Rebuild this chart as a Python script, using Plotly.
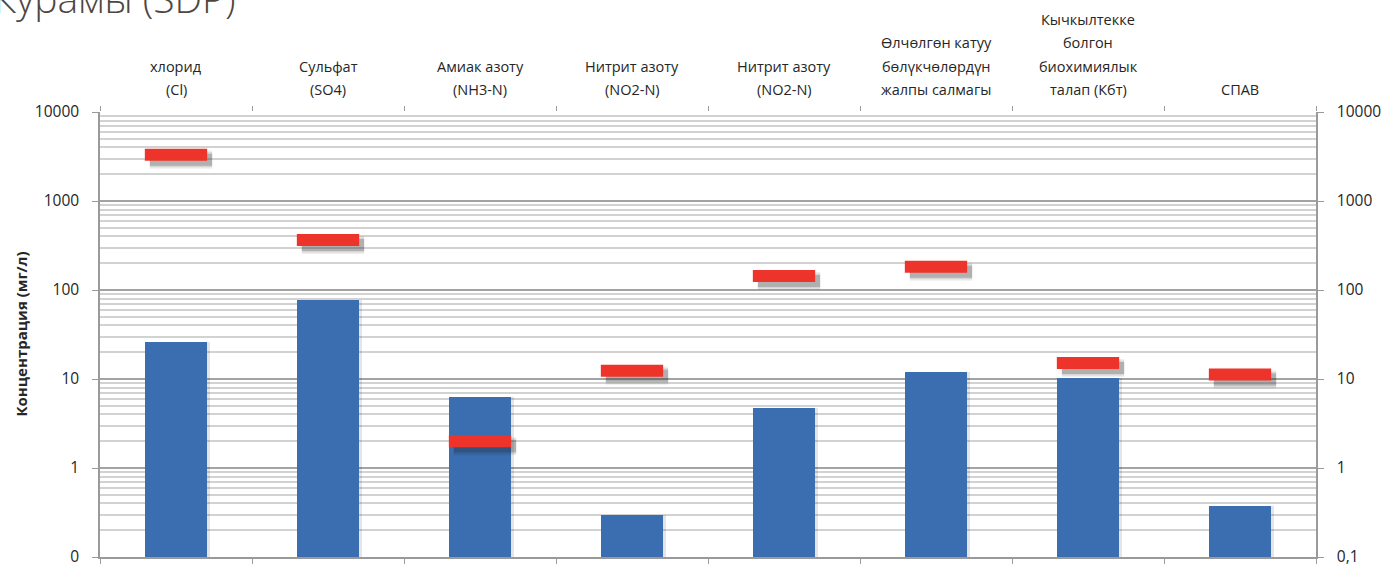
import plotly.graph_objects as go

# Показатели и значения (мг/л)
categories = [
    ["хлорид", "(Cl)"],
    ["Сульфат", "(SO4)"],
    ["Амиак азоту", "(NH3-N)"],
    ["Нитрит азоту", "(NO2-N)"],
    ["Нитрит азоту", "(NO2-N)"],
    ["Өлчөлгөн катуу", "бөлүкчөлөрдүн", "жалпы салмагы"],
    ["Кычкылтекке", "болгон", "биохимиялык", "талап (Кбт)"],
    ["СПАВ"],
]
measured = [26, 78, 6.25, 0.30, 4.7, 12.0, 10.3, 0.376]
limits = [3300, 365, 2.0, 12.4, 144, 183, 15.1, 11.2]

left_tickvals = [0.1, 1, 10, 100, 1000, 10000]
left_ticktext = ["0", "1", "10", "100", "1000", "10000"]
right_ticktext = ["0,1", "1", "10", "100", "1000", "10000"]

y_log_range = [-1, 4]
minor_vals = [m * 10 ** k for k in range(-1, 4) for m in range(2, 10)]

n = len(measured)
xs = list(range(n))
bar_width = 0.41

W, H = 1397, 566
margin = dict(l=100, r=81, t=112, b=9)
plot_w = W - margin["l"] - margin["r"]
plot_h = H - margin["t"] - margin["b"]
px_per_x = plot_w / n                      # pixels per category
px_per_decade = plot_h / (y_log_range[1] - y_log_range[0])

BAR_COLOR = "#3B6DB1"
RED = "#EE332B"
MAJOR_GRID = "#A3A3A3"
MINOR_GRID = "#D2D2D2"
AXIS_COLOR = "#9A9A9A"
TEXT_COLOR = "#262626"
FONT = "Open Sans"

fig = go.Figure()

# soft shadow behind the bars
sh_dx = 3 / px_per_x
fig.add_trace(go.Bar(
    x=[x + sh_dx for x in xs], y=measured, width=bar_width,
    marker=dict(color="rgba(0,0,0,0.10)", line=dict(width=0)),
    hoverinfo="skip", showlegend=False,
))

fig.add_trace(go.Bar(
    x=xs, y=measured, width=bar_width,
    marker=dict(color=BAR_COLOR, line=dict(width=0)),
    name="Факт", showlegend=False,
))

# limit markers: blurred drop shadow built from a few translucent layers
marker_len = bar_width * px_per_x
line_size = marker_len / 1.4
off_x = 5 / px_per_x
off_y = 10 ** (-5 / px_per_decade)
for lw, alpha in [(18, 0.08), (15, 0.12), (12, 0.22)]:
    fig.add_trace(go.Scatter(
        x=[x + off_x for x in xs], y=[v * off_y for v in limits],
        mode="markers",
        marker=dict(symbol="line-ew", size=line_size,
                    line=dict(width=lw, color=f"rgba(40,40,40,{alpha})")),
        hoverinfo="skip", showlegend=False,
    ))

fig.add_trace(go.Scatter(
    x=xs, y=limits, mode="markers",
    marker=dict(symbol="line-ew", size=line_size,
                line=dict(width=12, color=RED)),
    name="ПДК", showlegend=False,
))

# helper trace so the top and right axes get drawn
fig.add_trace(go.Scatter(x=[0], y=[1], xaxis="x2", yaxis="y2", mode="markers",
                         marker=dict(opacity=0), hoverinfo="skip", showlegend=False))

boundaries = [i - 0.5 for i in range(n + 1)]

fig.update_layout(
    width=W, height=H, margin=margin,
    paper_bgcolor="white", plot_bgcolor="white",
    barmode="overlay", bargap=0,
    font=dict(family=FONT, size=14, color=TEXT_COLOR),
    xaxis=dict(
        range=[-0.5, n - 0.5], tickmode="array", tickvals=boundaries,
        showticklabels=False, ticks="outside", ticklen=5, tickcolor=AXIS_COLOR,
        showgrid=False, zeroline=False, showline=True, linecolor=AXIS_COLOR, linewidth=1.5,
        automargin=False,
    ),
    xaxis2=dict(
        overlaying="x", side="top", anchor="y",
        range=[-0.5, n - 0.5], tickmode="array", tickvals=boundaries,
        showticklabels=False, ticks="outside", ticklen=5, tickcolor=AXIS_COLOR,
        showgrid=False, zeroline=False, showline=False, automargin=False,
    ),
    yaxis=dict(
        type="log", range=y_log_range,
        tickmode="array", tickvals=left_tickvals, ticktext=left_ticktext,
        ticks="outside", ticklen=6, tickcolor=AXIS_COLOR, ticklabelstandoff=10,
        ticklabeloverflow="allow",
        showgrid=True, gridcolor=MAJOR_GRID, gridwidth=1.5,
        minor=dict(tickmode="array", tickvals=minor_vals, showgrid=True,
                   gridcolor=MINOR_GRID, gridwidth=1.5, ticks=""),
        showline=True, linecolor=AXIS_COLOR, linewidth=1.5, zeroline=False,
        tickfont=dict(family=FONT, size=15.5, color=TEXT_COLOR), automargin=False,
    ),
    yaxis2=dict(
        type="log", range=y_log_range, overlaying="y", side="right", anchor="x",
        tickmode="array", tickvals=left_tickvals, ticktext=right_ticktext,
        ticks="outside", ticklen=6, tickcolor=AXIS_COLOR, ticklabelstandoff=10,
        ticklabeloverflow="allow",
        showgrid=False, showline=True, linecolor=AXIS_COLOR, linewidth=1.5, zeroline=False,
        tickfont=dict(family=FONT, size=15.5, color=TEXT_COLOR), automargin=False,
    ),
)

annotations = []
# category headers above the plot, bottom-aligned
line_step = 23.5
for i, lines in enumerate(categories):
    for j, text in enumerate(reversed(lines)):
        annotations.append(dict(
            x=i, xref="x", y=1, yref="paper", yanchor="bottom", xanchor="center",
            yshift=11 + j * line_step, text=text, showarrow=False,
            font=dict(family=FONT, size=14.5, color=TEXT_COLOR),
        ))

# axis title
annotations.append(dict(
    x=0, xref="paper", y=0.5, yref="paper", xshift=-80, xanchor="center", yanchor="middle",
    text="<b>Концентрация (мг/л)</b>", textangle=-90, showarrow=False,
    font=dict(family=FONT, size=15, color=TEXT_COLOR),
))

# chart title (partly above the page)
annotations.append(dict(
    x=0, xref="paper", y=1, yref="paper", xanchor="left", yanchor="bottom",
    xshift=-108, yshift=86, text="Курамы (SDP)", showarrow=False,
    font=dict(family=FONT, size=39, color="#50463F", weight=300),
))

fig.update_layout(annotations=annotations)

fig.write_html("out.html")
